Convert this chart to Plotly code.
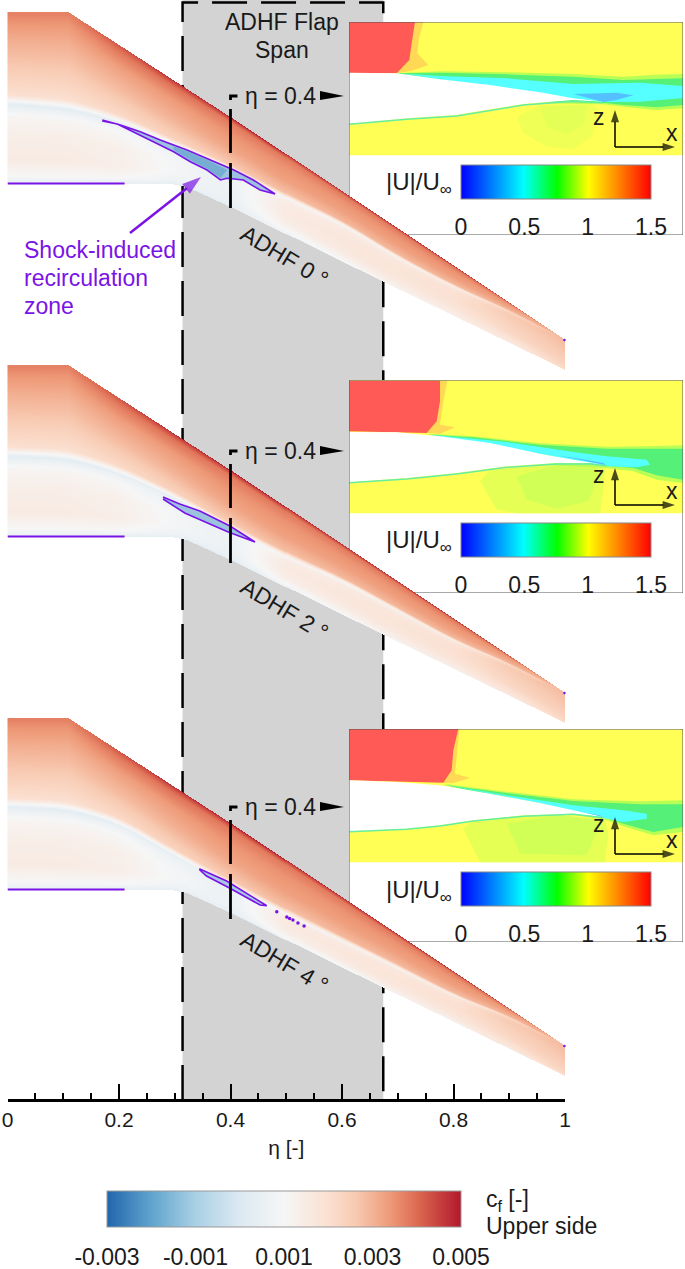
import numpy as np
import plotly.graph_objects as go

W, H = 685, 1269
# ---------- data ----------
station_eta = [0, .11, .2, .3, .4, .5, .6, .7, .8, .9, 1.0]
le_eta = [0, .109, .4, 1]
le_pos = [12, 12, 117, 340]
te_eta = [0, .295, .322, .404, .674, 1]
te_pos = [184, 184, 187, 208, 282, 370]
shock_pos_0 = [104, 109, 122, 146, 170, 198, 224, 258, 287, 311, 340]
shock_pos_2 = [103, 106, 120, 145, 176, 204, 228, 258, 288, 311, 340]
shock_pos_4 = [101, 104, 118, 150, 180, 208, 235, 262, 290, 311, 340]
front_u = [0, .03, .1, .3, .6, .9, 1]
cf_front = [
    [.0037, .0037, .0043, .0048, .0050, .0050, .0050, .0050, .0050, .0050, .0035],
    [.0037, .0037, .0041, .0044, .0044, .0044, .0044, .0044, .0044, .0043, .0032],
    [.0035, .0035, .0038, .0039, .0038, .0038, .0038, .0038, .0038, .0038, .0030],
    [.0031, .0031, .0033, .0034, .0035, .0035, .0035, .0035, .0035, .0034, .0029],
    [.0026, .0026, .0028, .0030, .0032, .0033, .0033, .0033, .0033, .0032, .0029],
    [.0020, .0020, .0022, .0024, .0026, .0028, .0029, .0029, .0029, .0029, .0029],
    [.0003, .0003, .0004, .0004, .0005, .0011, .0011, .0012, .0014, .0022, .0029],
]
aft_v = [0, .06, .15, .4, .7, .9, 1]
cf_aft = [
    [.0003, .0003, .0004, .0004, .0005, .0011, .0011, .0012, .0014, .0022, .0029],
    [.0007, .0007, .0007, .0006, .0006, .0013, .0014, .0015, .0017, .0025, .0029],
    [.0011, .0011, .0010, .0007, .0006, .0015, .0016, .0017, .0019, .0026, .0028],
    [.0014, .0014, .0013, .0009, .0006, .0016, .0017, .0018, .0020, .0024, .0027],
    [.0015, .0015, .0014, .0009, .0006, .0014, .0016, .0017, .0018, .0022, .0025],
    [.0010, .0010, .0010, .0007, .0005, .0010, .0012, .0014, .0015, .0018, .0023],
    [.0004, .0004, .0004, .0004, .0004, .0006, .0009, .0012, .0013, .0016, .0021],
]
panel_shift = [0, 353, 706]
cf_ticks = [-0.003, -0.001, 0.001, 0.003, 0.005]
u_ticks = [0, 0.5, 1, 1.5]
flap_eta = [0.314, 0.674]
cut_eta = 0.4
cut_marker_eta = [.4, .4, None, .4, .4, None, .4, .4, .4125]
cut_marker_pos = [208, 163, None, 153, 109, None, 100, 96, 96]

recirc_0_eta = [.170, .2025, .238, .274, .322, .358, .394, .406, .441, .480, .453, .423, .394, .382, .358, .328, .298, .268, .232, .197, .170]
recirc_0_pos = [120, 125, 131.7, 140, 150, 158.3, 166.7, 170, 180, 194, 190, 180, 178.3, 180, 170, 161.7, 151.7, 143.3, 133.3, 124, 121]
recirc_0b_eta = [.298, .322, .358, .394, .382, .358, .328, .298]
recirc_0b_pos = [146, 151, 160, 170, 178, 169, 160, 150]
recirc_2_eta = [.279, .309, .345, .399, .444, .396, .363, .318, .279]
recirc_2_pos = [497, 504, 511, 526, 542, 532, 524, 513, 499]
recirc_4_eta = [.344, .393, .465, .453, .399, .357, .344]
recirc_4_pos = [868.7, 881, 905.7, 905, 888.3, 876, 869.5]
spots_4_eta = [.483, .501, .506, .512, .521, .532]
spots_4_pos = [911.7, 917, 918.5, 920, 923, 926]
root_line_eta = [0, 0.21]
root_line_pos = [183.5, 183.5]
pointer_eta = [.2197, .347]
pointer_pos = [233, 177]

# flow-field regions of the three insets (inset units)
flow = [
    dict(red=[(27,36),(225,36),(215,100),(208,150),(170,190),(27,190)],
         fringe=[(225,36),(250,36),(236,90),(232,130),(265,165),(215,182),(170,190)],
         up=[(28,188),(170,190),(300,208),(450,225),(600,247),(700,265),(790,275)],
         lo=[(790,275),(700,270),(550,282),(450,298),(350,315),(200,325),(28,342)],
         pale=[(165,190),(300,184),(500,187),(700,192),(850,200),(950,194),(1029,192),(1029,295),(950,300),(850,290),(790,283),(600,280)],
         green=[(170,190),(300,188),(500,193),(700,200),(850,210),(1029,205),(1029,285),(950,292),(850,285),(790,278),(600,275)],
         cyan=[(190,191),(300,198),(500,205),(700,222),(900,218),(1029,228),(1029,264),(900,275),(800,276),(700,268)],
         blue=[(700,252),(830,248),(880,256),(830,270),(790,276)],
         wash=[(530,320),(550,370),(620,410),(700,418),(755,380),(775,300),(760,282),(600,285)],
         wash2=[(600,290),(620,350),(680,372),(730,345),(745,285)],
         wash_color='#f0ff55', wash2_color='#e4ff55',
         edge=[(28,343),(200,328),(350,318),(450,301),(550,285),(700,274),(790,278)]),
    dict(red=[(27,38),(300,38),(300,100),(290,160),(260,195),(27,190)],
         fringe=[(300,38),(322,38),(310,100),(300,170),(345,178),(300,197),(260,195)],
         up=[(28,192),(170,193),(300,205),(450,225),(600,257),(700,275),(800,292)],
         lo=[(800,292),(750,285),(650,285),(500,295),(350,315),(200,330),(28,343)],
         pale=[(260,197),(400,205),(600,226),(800,236),(950,234),(1029,232),(1029,345),(950,335),(880,310),(800,300),(600,290)],
         green=[(270,200),(400,208),(600,230),(800,242),(1029,242),(1029,335),(950,322),(880,300),(800,293),(600,270)],
         cyan=[(270,200),(500,222),(700,252),(800,265),(920,275),(930,290),(890,298),(800,295),(600,257)],
         blue=[(650,262),(720,272),(790,285),(800,293),(740,280)],
         wash=[(420,340),(470,425),(530,436),(780,436),(792,340),(795,295),(650,287),(450,305)],
         wash2=[(530,325),(560,395),(650,422),(745,400),(770,340),(775,295),(650,290)],
         wash_color='#e6ff55', wash2_color='#d2ff55',
         edge=[(28,344),(200,333),(350,318),(500,298),(650,288),(750,288),(800,293)]),
    dict(red=[(27,36),(355,36),(340,100),(335,160),(310,197),(27,190)],
         fringe=[(355,36),(358,36),(352,100),(345,170),(390,183),(340,198),(310,197)],
         up=[(28,190),(170,195),(300,205),(450,230),(600,258),(700,280),(790,300)],
         lo=[(790,300),(700,290),(550,295),(400,310),(300,325),(200,335),(28,343)],
         pale=[(310,200),(500,224),(700,247),(900,253),(1029,250),(1029,345),(940,355),(850,328),(790,306),(600,280)],
         green=[(310,203),(500,228),(700,252),(900,262),(1029,262),(1029,330),(940,345),(850,320),(790,300),(600,270)],
         cyan=[(310,203),(500,235),(700,265),(850,280),(920,290),(920,305),(850,315),(790,303),(600,258)],
         blue=[(650,270),(720,285),(780,295),(790,301),(730,290)],
         wash=[(370,335),(420,436),(795,436),(805,350),(795,305),(600,292),(400,308)],
         wash2=[(500,320),(540,410),(740,415),(785,310),(650,293)],
         wash_color='#e6ff55', wash2_color='#d2ff55',
         edge=[(28,344),(200,337),(300,327),(400,312),(550,298),(700,292),(790,302)]),
]
# ---------- styling ----------
cf_scale = [[0, '#2166ac'], [.125, '#5fa4cd'], [.25, '#a9d0e5'], [.375, '#dce9f1'], [.5, '#f6f6f6'],
            [.625, '#fbe0d1'], [.7, '#f8cbb3'], [.8, '#ee9a78'], [.875, '#dd6b52'], [1, '#b2182b']]
u_scale = [[0, '#0000ff'], [.33, '#00ffff'], [.505, '#00ff00'], [.67, '#ffff00'], [1, '#ff0000']]
PURPLE = '#7a14e6'
FONT = 'Liberation Sans, Arial, sans-serif'
INK = '#1a1a1a'
TXT = 23


def px(x):
    return x / W


def py(y):
    return 1 - y / H


def dom_x(a, b):
    return [a / W, b / W]


def dom_y(a, b):
    return [1 - b / H, 1 - a / H]


fig = go.Figure()
ZERO, ONE = 7.5, 565
ax_common = dict(visible=False, fixedrange=True)


def label(x, y, text, size=TXT, color=INK, xanchor='center', yanchor='middle', **kw):
    fig.add_annotation(x=px(x), y=py(y), xref='paper', yref='paper', text=text, showarrow=False,
                       xanchor=xanchor, yanchor=yanchor, font=dict(family=FONT, size=size, color=color), **kw)


# --- subplot 1: flap band behind everything
fig.add_trace(go.Scatter(x=[flap_eta[0], flap_eta[1], flap_eta[1], flap_eta[0], flap_eta[0]],
                         y=[0, 0, 1100, 1100, 0], fill='toself', fillcolor='#d3d3d3', mode='none',
                         hoverinfo='skip', xaxis='x', yaxis='y'))
fig.add_trace(go.Scatter(x=[flap_eta[0], flap_eta[0], flap_eta[1], flap_eta[1]],
                         y=[1100, 2.5, 2.5, 1100], mode='lines', hoverinfo='skip',
                         line=dict(color='black', width=2.5, dash='35px,14px'), xaxis='x', yaxis='y'))

# --- subplots 2-4: insets
for i, (f, shift) in enumerate(zip(flow, [0, 358, 707])):
    n = i + 2
    xa, ya = f'x{n}', f'y{n}'

    def poly(points, color, line=None, width=0):
        xs = [p[0] for p in points] + [points[0][0]]
        ys = [p[1] for p in points] + [points[0][1]]
        fig.add_trace(go.Scatter(x=xs, y=ys, fill='toself', fillcolor=color, hoverinfo='skip',
                                 mode='lines' if line else 'none',
                                 line=dict(color=line or color, width=width),
                                 xaxis=xa, yaxis=ya))

    poly([(27, 36), (1029, 36), (1029, 675), (27, 675)], 'white')
    poly([(28, 37), (1029, 37), (1029, 436), (28, 436)], '#ffff55')
    poly(f['wash'], f['wash_color'])
    poly(f['wash2'], f['wash2_color'])
    poly(f['fringe'], '#ffd855')
    poly(f['red'], '#ff5a55')
    poly(f['pale'], '#b8ff55')
    poly(f['green'], '#55f077')
    poly(f['cyan'], '#55ffff')
    poly(f['blue'], '#55c0ff')
    poly(f['up'] + f['lo'], 'white')
    poly(f['edge'] + f['edge'][::-1], '#66ffaa', '#66eea0', 1.5)
    poly([(27, 36), (1029, 36), (1029, 675), (27, 675)], 'rgba(0,0,0,0)', '#555555', 1)
    fig.update_layout(**{
        f'xaxis{n}': dict(domain=dom_x(349, 683), range=[27, 1029], anchor=ya, **ax_common),
        f'yaxis{n}': dict(domain=dom_y(22 + shift, 235 + shift), range=[675, 36], anchor=xa, **ax_common),
    })
    fig.add_trace(go.Scatter(
        x=[500], y=[500], mode='markers', hoverinfo='skip', xaxis=xa, yaxis=ya,
        marker=dict(size=1, opacity=0, color=[0.75], cmin=0, cmax=1.5, colorscale=u_scale, showscale=True,
                    colorbar=dict(orientation='h', thickness=34, thicknessmode='pixels', len=190, lenmode='pixels',
                                  x=px(556), xanchor='center', y=py(165 + shift), yanchor='top', xpad=0, ypad=0,
                                  tickvals=u_ticks, ticktext=['0', '0.5', '1', '1.5'], ticks='outside', ticklen=8,
                                  tickcolor='rgba(0,0,0,0)', outlinecolor='#888888', outlinewidth=1,
                                  tickfont=dict(family=FONT, size=TXT, color=INK)))))
    for ax_x, ax_y in [([825, 825], [411, 300]), ([825, 1005], [411, 411])]:
        fig.add_trace(go.Scatter(x=ax_x, y=ax_y, mode='lines+markers', hoverinfo='skip', xaxis=xa, yaxis=ya,
                                 line=dict(color='black', width=1.5),
                                 marker=dict(symbol='arrow', size=[0, 13], angleref='previous', color='black',
                                             line=dict(width=0))))
    for txt, tx, ty in [('z', 778, 322), ('x', 997, 368)]:
        fig.add_annotation(x=tx, y=ty, xref=xa, yref=ya, text=txt, showarrow=False,
                           xanchor='center', yanchor='middle',
                           font=dict(family=FONT, size=TXT, color=INK))
    label(419, 184 + shift, '|U|/U<sub>∞</sub>', size=24)

# --- subplot 5: wings, on top of the insets
etas = np.linspace(0, 1, 558)
rows = np.arange(0, 385) + 0.5


def wing(shock_pos, shift, first):
    le = np.interp(etas, le_eta, le_pos)
    te = np.interp(etas, te_eta, te_pos)
    sp = np.interp(etas, station_eta, shock_pos)
    k = 45
    sp = np.convolve(np.pad(sp, k // 2, mode='edge'), np.ones(k) / k, mode='valid')
    ss = np.clip((sp - le) / (te - le), 0.001, 0.95)
    z = np.full((rows.size, etas.size), np.nan, dtype=np.float32)
    for j, e in enumerate(etas):
        f_col = [np.interp(e, station_eta, r) for r in cf_front]
        a_col = [np.interp(e, station_eta, r) for r in cf_aft]
        s = (rows - le[j]) / (te[j] - le[j])
        m = (s >= 0) & (s <= 1)
        before = s < ss[j]
        col = np.where(before, np.interp(s / ss[j], front_u, f_col),
                       np.interp((s - ss[j]) / (1 - ss[j]), aft_v, a_col))
        z[m, j] = col[m]
    tr = go.Heatmap(x=etas, y=rows + shift, z=z, zmin=-.003, zmax=.005, colorscale=cf_scale,
                    hoverinfo='skip', xaxis='x5', yaxis='y5', showscale=first)
    if first:
        tr.colorbar = dict(orientation='h', thickness=36, thicknessmode='pixels', len=354, lenmode='pixels',
                           x=px(284), xanchor='center', y=py(1191), yanchor='top', xpad=0, ypad=0,
                           tickvals=cf_ticks, ticktext=['-0.003', '-0.001', '0.001', '0.003', '0.005'],
                           ticks='outside', ticklen=10, tickcolor='rgba(0,0,0,0)',
                           outlinecolor='#999999', outlinewidth=1,
                           tickfont=dict(family=FONT, size=TXT, color=INK))
    fig.add_trace(tr)


for sp_tab, sh, fst in zip([shock_pos_0, shock_pos_2, shock_pos_4], panel_shift, [True, False, False]):
    wing(sp_tab, sh, fst)


def region(xs, ys, color, outline=True):
    fig.add_trace(go.Scatter(x=xs, y=ys, fill='toself', fillcolor=color, hoverinfo='skip',
                             mode='lines' if outline else 'none',
                             line=dict(color=PURPLE, width=1.6 if outline else 0),
                             xaxis='x5', yaxis='y5'))


region(recirc_0_eta, recirc_0_pos, '#9cc3de')
region(recirc_0b_eta, recirc_0b_pos, '#78add3', False)
region(recirc_2_eta, recirc_2_pos, '#9cc3de')
region(recirc_4_eta, recirc_4_pos, '#a9cae2')
fig.add_trace(go.Scatter(x=spots_4_eta, y=spots_4_pos, mode='markers', hoverinfo='skip',
                         marker=dict(color=PURPLE, size=3.5), xaxis='x5', yaxis='y5'))
for sh in panel_shift:
    fig.add_trace(go.Scatter(x=root_line_eta, y=[v + sh for v in root_line_pos], mode='lines', hoverinfo='skip',
                             line=dict(color=PURPLE, width=1.8), xaxis='x5', yaxis='y5'))
    fig.add_trace(go.Scatter(x=[0.999], y=[340 + sh], mode='markers', hoverinfo='skip', cliponaxis=False,
                             marker=dict(color=PURPLE, size=2.5), xaxis='x5', yaxis='y5'))

fig.add_trace(go.Scatter(x=pointer_eta, y=pointer_pos, mode='lines+markers', hoverinfo='skip', xaxis='x5', yaxis='y5',
                         line=dict(color=PURPLE, width=2.5),
                         marker=dict(symbol='arrow', size=[0, 20], angleref='previous', color=PURPLE,
                                     line=dict(width=0))))

for sh in [0, 355, 711]:
    fig.add_trace(go.Scatter(x=cut_marker_eta, y=[None if v is None else v + sh for v in cut_marker_pos],
                             mode='lines', hoverinfo='skip', connectgaps=False,
                             line=dict(color='black', width=2.8), xaxis='x5', yaxis='y5'))
    fig.add_trace(go.Scatter(x=[.5605, .6035, .5605, .5605], y=[91 + sh, 96 + sh, 100 + sh, 91 + sh],
                             fill='toself', fillcolor='black', mode='none', hoverinfo='skip',
                             xaxis='x5', yaxis='y5'))
    label(280, 96 + sh, 'η = 0.4')

for lbl, cy in zip(['ADHF 0 °', 'ADHF 2 °', 'ADHF 4 °'], [256, 609, 962]):
    label(284, cy, lbl, textangle=31)

label(282, 22, 'ADHF Flap')
label(282, 50, 'Span')
for txt, ly in zip(['Shock-induced', 'recirculation', 'zone'], [250, 278, 306]):
    label(22, ly, txt, color=PURPLE, xanchor='left')
label(484, 1200, 'c<sub>f</sub> [-]', xanchor='left')
label(484, 1226, 'Upper side', xanchor='left')

eta_dom = dom_x(ZERO, ONE)
fig.update_layout(
    width=W, height=H, margin=dict(l=0, r=0, t=0, b=0, autoexpand=False), paper_bgcolor='white',
    plot_bgcolor='rgba(0,0,0,0)', showlegend=False, font=dict(family=FONT),
    xaxis=dict(domain=eta_dom, range=[0, 1], anchor='y', **ax_common),
    yaxis=dict(domain=[0, 1], range=[H, 0], anchor='x', **ax_common),
    xaxis5=dict(domain=eta_dom, range=[0, 1], anchor='free', position=py(1100), side='bottom', showline=True,
                linecolor='black', linewidth=2.5, showgrid=False, zeroline=False, ticks='inside', ticklen=15,
                tickwidth=2, tickcolor='black', fixedrange=True,
                tickvals=[0, .2, .4, .6, .8, 1], ticktext=['0', '0.2', '0.4', '0.6', '0.8', '1'],
                minor=dict(tickvals=[round(.05 * k, 2) for k in range(21) if k % 4], ticks='inside', ticklen=6,
                           tickwidth=1.5, tickcolor='black', showgrid=False),
                tickfont=dict(family=FONT, size=21, color=INK),
                title=dict(text='η [-]', font=dict(family=FONT, size=21, color=INK), standoff=10)),
    yaxis5=dict(domain=[0, 1], range=[H, 0], anchor='x5', **ax_common),
)
fig.write_html('out.html', config=dict(displayModeBar=False),
               post_script="document.body.style.margin='0';document.documentElement.style.overflow='hidden';")
